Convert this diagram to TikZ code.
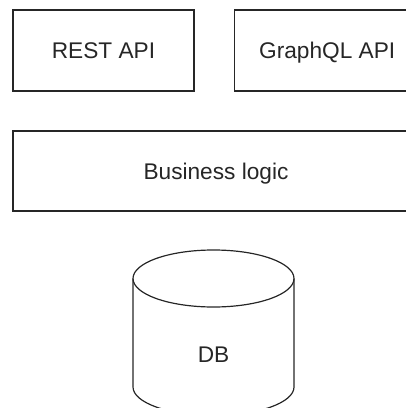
\documentclass[tikz,border=0pt]{standalone}
\usepackage{fontspec}
\setmainfont{Liberation Sans}
\usepackage{tikz}
\usetikzlibrary{positioning}

\begin{document}
\begin{tikzpicture}[
  x=0.75pt,y=-0.75pt,
  font=\fontsize{17}{20}\selectfont,
  box/.style={draw=black!85,line width=0.9pt,inner sep=0pt,text=black!85,text depth=0pt,minimum height=60.75pt},
  dbline/.style={draw=black!85,line width=0.9pt}
]
\useasboundingbox (0,0) rectangle (406,408);
\node[box,minimum width=135.75pt] (rest) at (103.5,50.5) {REST API};
\node[box,minimum width=139.5pt,right=29.25pt of rest] (gql) {GraphQL API};
\node[box,minimum width=304.5pt,minimum height=60pt] (logic) at (216,171) {Business logic};
% database cylinder
\draw[dbline] (133,278.5) -- (133,387) arc[start angle=180,end angle=360,x radius=60.375pt,y radius=21.375pt] -- (294,278.5);
\draw[dbline] (213.5,278.5) ellipse[x radius=60.375pt,y radius=21.375pt];
\node[text=black!85,text depth=0pt] (db) at (213.5,355) {DB};
\end{tikzpicture}
\end{document}
